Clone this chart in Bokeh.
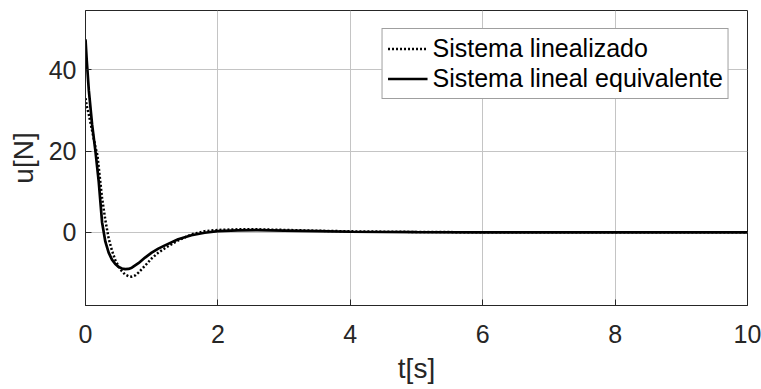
from bokeh.plotting import figure
from bokeh.models import Range1d, FixedTicker, Legend, LegendItem
from bokeh.embed import file_html
from bokeh.resources import INLINE

# Data
t_lin = [0, 0.02, 0.05, 0.1, 0.15, 0.18, 0.2, 0.25, 0.3, 0.35, 0.4, 0.45, 0.5, 0.55,
         0.6, 0.65, 0.7, 0.75, 0.8, 0.9, 1.0, 1.1, 1.2, 1.4, 1.6, 1.8, 2.0, 2.3, 2.6,
         3.0, 3.5, 4.0, 5.0, 6.0, 8.0, 10.0]
u_lin = [33, 31, 29, 25, 21, 19, 16, 8.5, 3, -1.5, -4.5, -6.8, -8.4, -9.6,
         -10.4, -10.8, -10.9, -10.6, -9.9, -8.2, -6.4, -5.0, -3.9, -2.0, -0.5, 0.3, 0.6, 0.75, 0.75,
         0.6, 0.4, 0.25, 0.1, 0.02, 0.0, 0.0]

t_eq = [0, 0.02, 0.05, 0.1, 0.15, 0.2, 0.25, 0.3, 0.35, 0.4, 0.45, 0.5, 0.55, 0.6,
        0.65, 0.7, 0.8, 0.9, 1.0, 1.1, 1.2, 1.4, 1.6, 1.8, 2.0, 2.3, 2.6, 3.0, 3.5,
        4.0, 5.0, 6.0, 8.0, 10.0]
u_eq = [47.5, 42, 35, 26.5, 20, 12.5, 2.5, -2.3, -5.0, -6.7, -7.8, -8.5, -8.9, -9.05,
        -9.0, -8.7, -7.6, -6.2, -5.0, -4.0, -3.2, -1.7, -0.7, -0.1, 0.3, 0.5, 0.55, 0.45, 0.3,
        0.15, 0.05, 0.0, 0.0, 0.0]

x_ticks = [0, 2, 4, 6, 8, 10]
y_ticks = [0, 20, 40]
labels = ["Sistema linealizado", "Sistema lineal equivalente"]

FONT = "Liberation Sans"
TXT = "#262626"

p = figure(width=761, height=389, output_backend="svg", toolbar_location=None,
           x_range=Range1d(0, 10), y_range=Range1d(-18, 54.6),
           min_border_left=85, min_border_right=14, min_border_top=10, min_border_bottom=84)
p.background_fill_color = "white"
p.border_fill_color = "white"
p.outline_line_color = "#262626"
p.outline_line_width = 1

for ax in (p.xaxis[0], p.yaxis[0]):
    ax.major_label_text_font = FONT
    ax.major_label_text_font_size = "25px"
    ax.major_label_text_color = TXT
    ax.axis_label_text_font = FONT
    ax.axis_label_text_font_size = "28px"
    ax.axis_label_text_font_style = "normal"
    ax.axis_label_text_color = TXT
    ax.axis_line_color = "#262626"
    ax.major_tick_in = 6
    ax.major_tick_out = 0
    ax.minor_tick_in = 0
    ax.minor_tick_out = 0
    ax.major_tick_line_color = "#262626"

p.xaxis.ticker = FixedTicker(ticks=x_ticks)
p.yaxis.ticker = FixedTicker(ticks=y_ticks)
p.xaxis.axis_label = "t[s]"
p.yaxis.axis_label = "u[N]"
p.xaxis.major_label_standoff = 19
p.xaxis.axis_label_standoff = 7
p.yaxis.major_label_standoff = 9
p.yaxis.axis_label_standoff = 7

p.xgrid.grid_line_color = "#c4c4c4"
p.ygrid.grid_line_color = "#c4c4c4"
p.xgrid.ticker = FixedTicker(ticks=x_ticks)
p.ygrid.ticker = FixedTicker(ticks=y_ticks)

r1 = p.line(t_lin, u_lin, line_color="black", line_width=2.5, line_dash="2 2")
r2 = p.line(t_eq, u_eq, line_color="black", line_width=2.7)

legend = Legend(items=[LegendItem(label=labels[0], renderers=[r1]),
                       LegendItem(label=labels[1], renderers=[r2])],
                location="top_right")
legend.label_text_font = FONT
legend.label_text_font_size = "25px"
legend.label_text_color = "black"
legend.border_line_color = "#404040"
legend.border_line_width = 1
legend.background_fill_color = "white"
legend.background_fill_alpha = 1
legend.margin = 18
legend.padding = 5
legend.spacing = 1
legend.glyph_width = 40
legend.glyph_height = 29
legend.label_height = 29
legend.label_standoff = 5
p.add_layout(legend)

open("out.html", "w").write(file_html(p, INLINE))
